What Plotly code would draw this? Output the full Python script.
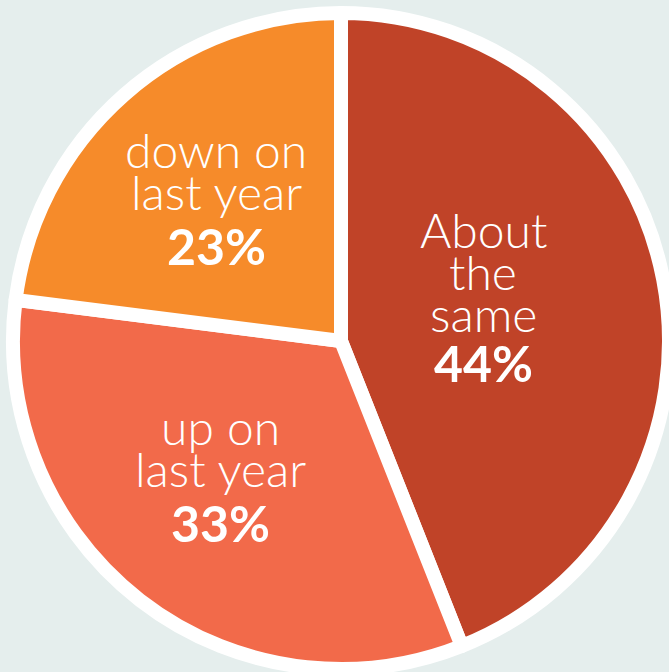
import plotly.graph_objects as go

# ---- data ----
labels = ["About the same", "up on last year", "down on last year"]
values = [44, 33, 23]
label_lines = [["About", "the", "same"], ["up on", "last year"], ["down on", "last year"]]

# ---- styles / layout ----
colors = ["#C04328", "#F26A4A", "#F68B2A"]
bg = "#E5EEED"
W, H = 669, 672
label_x = [483, 220, 216]          # px, centre of each label block
first_baseline = [248, 445, 168]   # px, baseline of first text line
pct_gap = [50, 55, 55]
LINE_GAP = 42
LIGHT_SIZE = 48
BOLD_SIZE = 50
FONT = "Lato"

fig = go.Figure(go.Pie(
    labels=labels, values=values, sort=False, direction="clockwise", rotation=0,
    marker=dict(colors=colors, line=dict(color="white", width=14)),
    textinfo="none", hoverinfo="label+percent",
    domain=dict(x=[13 / W, 1], y=[3 / H, 659 / H]),
))

def px2paper(x, y):
    return x / W, 1 - y / H

annotations = []
for i, lines in enumerate(label_lines):
    base = first_baseline[i]
    for j, line in enumerate(lines):
        bl = base + j * LINE_GAP
        cx, cy = px2paper(label_x[i], bl - 0.387 * LIGHT_SIZE)
        annotations.append(dict(x=cx, y=cy, xref="paper", yref="paper", text=line,
                                showarrow=False, xanchor="center", yanchor="middle",
                                font=dict(family=FONT, size=LIGHT_SIZE, color="white", weight=300)))
    bl = base + (len(lines) - 1) * LINE_GAP + pct_gap[i]
    cx, cy = px2paper(label_x[i], bl - 0.387 * BOLD_SIZE)
    annotations.append(dict(x=cx, y=cy, xref="paper", yref="paper", text=f"{values[i]}%",
                            showarrow=False, xanchor="center", yanchor="middle",
                            font=dict(family=FONT, size=BOLD_SIZE, color="white", weight=700)))

fig.update_layout(width=W, height=H, margin=dict(l=0, r=0, t=0, b=0),
                  paper_bgcolor=bg, plot_bgcolor=bg, showlegend=False,
                  annotations=annotations)
fig.write_html("out.html", config={"displayModeBar": False},
               post_script="document.body.style.margin='0';document.body.style.background='%s';" % bg)
